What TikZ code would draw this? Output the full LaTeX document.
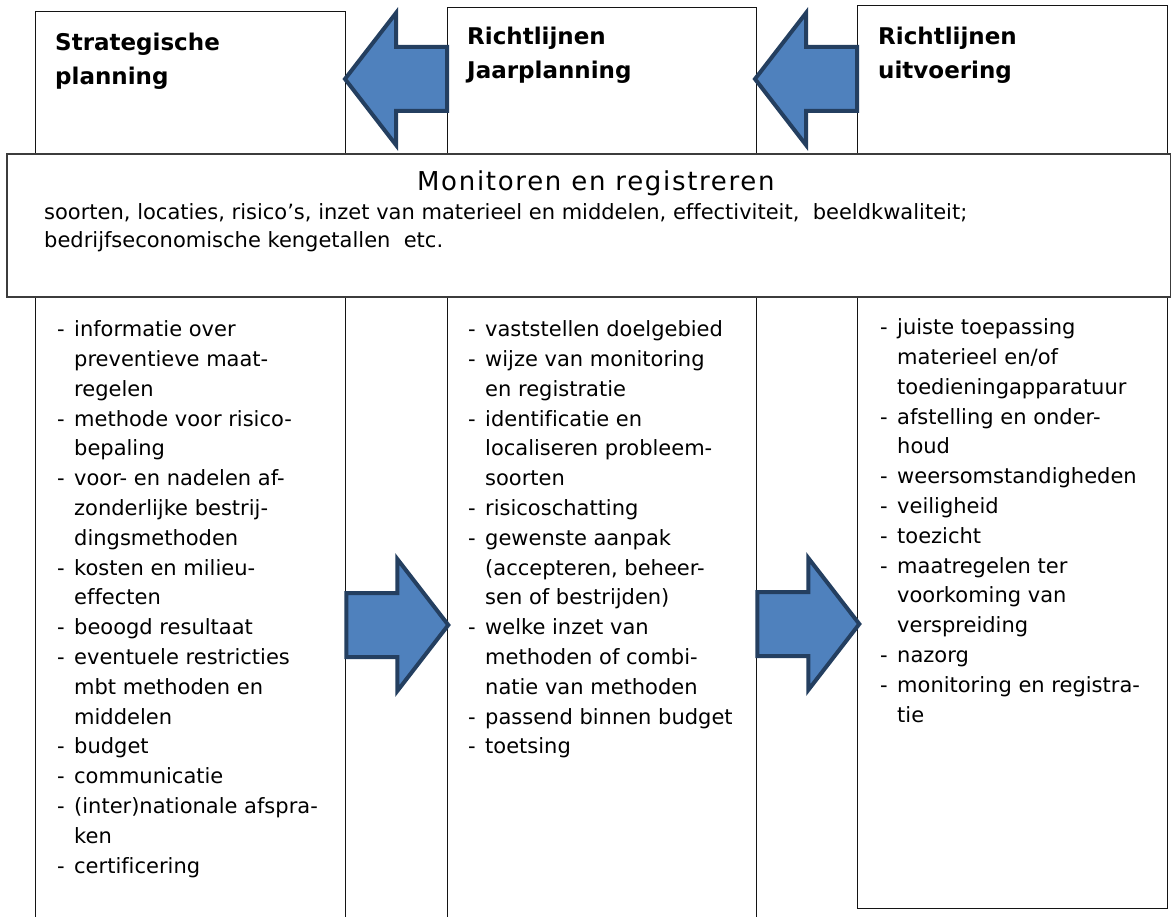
\documentclass[tikz,border=0pt]{standalone}
\usepackage{fontspec}
\setmainfont[Ligatures=NoCommon]{DejaVu Sans}
\newfontfamily\pntitelfont[LetterSpace=6.5]{DejaVu Sans}
\usetikzlibrary{positioning,calc}
\definecolor{pnfill}{RGB}{79,129,189}
\definecolor{pnrand}{RGB}{36,63,96}
\definecolor{pnkader}{RGB}{20,20,20}
\definecolor{pnmonkader}{RGB}{60,60,60}
\tikzset{
  pn/.style={font=\fontsize{21}{29.8}\selectfont, text=black, inner sep=0pt},
  pnkolom/.style={
    draw=pnkader, line width=1.3pt, fill=white, anchor=north west,
    minimum width=310pt, inner sep=0pt
  },
  pnkop/.style={pn, font=\fontsize{23}{34}\selectfont\bfseries, anchor=base west},
  pnlijst/.style={pn, anchor=base west},
  pntitel/.style={pn, font=\pntitelfont\fontsize{26}{30}\selectfont, anchor=base},
  pnmon/.style={
    draw=pnmonkader, line width=1.8pt, fill=white, anchor=north west,
    minimum width=1164pt, minimum height=143pt, inner sep=0pt
  },
  pnpijl/.pic={
    \draw[draw=pnrand, fill=pnfill, line width=4pt, line join=miter]
      (0,-32) -- (51,-32) -- (51,-66) -- (102,0) -- (51,66) -- (51,32) -- (0,32) -- cycle;
  },
}
% rows hang from the baseline of their first line
\newcommand{\pnregels}[1]{\begin{tabular}[t]{@{}l@{}}#1\end{tabular}}
\newcommand{\pnitem}{\makebox[17pt][l]{-}}
\newcommand{\pnverv}{\hspace*{17pt}}

\begin{document}
\begin{tikzpicture}[x=1pt, y=-1pt, pn]
  \useasboundingbox (0,0) rectangle (1171,917);

  \node[pnkolom, minimum height=914pt] (strat) at (35,11) {};
  \node[pnkolom, minimum width=309pt, minimum height=918pt] (jaar) at (447,7) {};
  \node[pnkolom, minimum height=903pt] (uitv) at (857,5) {};

  \node[pnkop] (kopstrat) at ($(strat.north west)+(20,40)$) {\pnregels{Strategische\\planning}};
  \node[pnkop] (kopjaar) at ($(jaar.north west)+(20,38)$) {\pnregels{Richtlijnen\\Jaarplanning}};
  \node[pnkop] (kopuitv) at ($(uitv.north west)+(21,40)$) {\pnregels{Richtlijnen\\uitvoering}};

  \pic[rotate=180] at (jaar.west |- 0,79) {pnpijl};
  \pic[rotate=180] at (uitv.west |- 0,79) {pnpijl};

  \node[pnmon] (monitor) at (6,153) {};
  \node[pntitel] (titel) at ($(monitor.north)+(7,38)$) {Monitoren en registreren};
  \node[pnlijst, font=\fontsize{21}{27.5}\selectfont] (kengetallen)
    at ($(monitor.north west)+(38,67)$) {\pnregels{%
    soorten, locaties, risico’s, inzet van materieel en middelen, effectiviteit,\ \ beeldkwaliteit;\\
    bedrijfseconomische kengetallen\ \ etc.}};

  \node[pnlijst] (lijststrat) at ($(strat.west |- monitor.south)+(22,39)$) {\pnregels{%
    \pnitem informatie over\\
    \pnverv preventieve maat-\\
    \pnverv regelen\\
    \pnitem methode voor risico-\\
    \pnverv bepaling\\
    \pnitem voor- en nadelen af-\\
    \pnverv zonderlijke bestrij-\\
    \pnverv dingsmethoden\\
    \pnitem kosten en milieu-\\
    \pnverv effecten\\
    \pnitem beoogd resultaat\\
    \pnitem eventuele restricties\\
    \pnverv mbt methoden en\\
    \pnverv middelen\\
    \pnitem budget\\
    \pnitem communicatie\\
    \pnitem (inter)nationale afspra-\\
    \pnverv ken\\
    \pnitem certificering}};
  \node[pnlijst] (lijstjaar) at ($(jaar.west |- monitor.south)+(21,39)$) {\pnregels{%
    \pnitem vaststellen doelgebied\\
    \pnitem wijze van monitoring\\
    \pnverv en registratie\\
    \pnitem identificatie en\\
    \pnverv localiseren probleem-\\
    \pnverv soorten\\
    \pnitem risicoschatting\\
    \pnitem gewenste aanpak\\
    \pnverv (accepteren, beheer-\\
    \pnverv sen of bestrijden)\\
    \pnitem welke inzet van\\
    \pnverv methoden of combi-\\
    \pnverv natie van methoden\\
    \pnitem passend binnen budget\\
    \pnitem toetsing}};
  \node[pnlijst] (lijstuitv) at ($(uitv.west |- monitor.south)+(23,37)$) {\pnregels{%
    \pnitem juiste toepassing\\
    \pnverv materieel en/of\\
    \pnverv toedieningapparatuur\\
    \pnitem afstelling en onder-\\
    \pnverv houd\\
    \pnitem weersomstandigheden\\
    \pnitem veiligheid\\
    \pnitem toezicht\\
    \pnitem maatregelen ter\\
    \pnverv voorkoming van\\
    \pnverv verspreiding\\
    \pnitem nazorg\\
    \pnitem monitoring en registra-\\
    \pnverv tie}};

  \pic at (strat.east |- 0,625) {pnpijl};
  \pic at (jaar.east |- 0,624) {pnpijl};
\end{tikzpicture}
\end{document}
